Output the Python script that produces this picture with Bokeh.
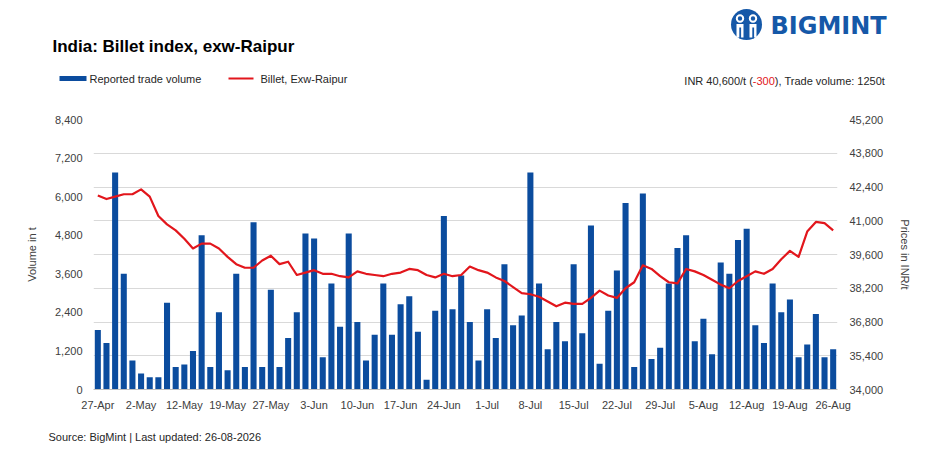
from bokeh.plotting import figure
from bokeh.layouts import column, row
from bokeh.models import Range1d, LinearAxis, FixedTicker, NumeralTickFormatter, ColumnDataSource
from bokeh.core.properties import value
from bokeh.embed import file_html
from bokeh.resources import INLINE

# ---------------- data ----------------
volume = [1850, 1450, 6750, 3600, 900, 500, 380, 380, 2700, 700,
          780, 1200, 4800, 700, 2400, 600, 3600, 700, 5200, 700,
          3100, 700, 1600, 2400, 4850, 4700, 1000, 3300, 1950, 4850,
          2100, 900, 1700, 3300, 1700, 2650, 2900, 1800, 300, 2450,
          5400, 2500, 3550, 2100, 900, 2500, 1600, 3900, 2000, 2300,
          6750, 3300, 1250, 2100, 1500, 3900, 1750, 5100, 800, 2450,
          3700, 5800, 700, 6100, 950, 1300, 3300, 4400, 4800, 1500,
          2200, 1100, 3950, 3600, 4650, 5000, 2000, 1450, 3300, 2400,
          2800, 1000, 1400, 2350, 1000, 1250]
price = [42050, 41900, 42000, 42100, 42100, 42300, 42000, 41200, 40850, 40600,
         40250, 39850, 40050, 40050, 39850, 39500, 39200, 39050, 39050, 39350,
         39550, 39200, 39300, 38750, 38850, 38950, 38800, 38800, 38700, 38650,
         38900, 38800, 38750, 38700, 38800, 38850, 39000, 38950, 38750, 38650,
         38800, 38700, 38750, 39100, 38950, 38850, 38650, 38500, 38250, 38000,
         37950, 37850, 37650, 37450, 37600, 37550, 37550, 37800, 38100, 37900,
         37800, 38200, 38450, 39150, 39000, 38700, 38450, 38400, 39000, 38900,
         38750, 38550, 38350, 38200, 38500, 38700, 38900, 38800, 39000, 39400,
         39750, 39500, 40550, 40950, 40900, 40600]
tick_labels = ["27-Apr", "2-May", "12-May", "19-May", "27-May", "3-Jun", "10-Jun",
               "17-Jun", "24-Jun", "1-Jul", "8-Jul", "15-Jul", "22-Jul", "29-Jul",
               "5-Aug", "12-Aug", "19-Aug", "26-Aug"]
vol_ticks = [0, 1200, 2400, 3600, 4800, 6000, 7200, 8400]
price_ticks = [34000, 35400, 36800, 38200, 39600, 41000, 42400, 43800, 45200]
legend_labels = ["Reported trade volume", "Billet, Exw-Raipur"]
title_text = "India: Billet index, exw-Raipur"
source_text = "Source: BigMint | Last updated: 26-08-2026"
brand = "BIGMINT"
last_price = price[-1]
last_change = price[-1] - price[-2]
last_volume = volume[-1]

# ---------------- style ----------------
FONT = "Liberation Sans"
BLUE = "#0B4C9E"
RED = "#E2161C"
TXT = "#404040"
DARK = "#262626"
LOGO = "#1558A8"

W = 925
H_HEAD, H_MAIN, H_FOOT = 111, 308, 31
FL, FR = 93, 837          # frame edges on the page (x)

# Arial / Liberation Sans advance widths (em) for measuring the info line
AW = {c: 0.556 for c in "0123456789adeoupn"}
AW.update({",": .278, "/": .278, "(": .333, ")": .333, "-": .333, " ": .278, "I": .278,
           "N": .722, "R": .722, "t": .278, "T": .611, "r": .333, "v": .5, "l": .222,
           "m": .833, ":": .278})


def width(s, size):
    return sum(AW.get(c, 0.556) for c in s) * size


def blank(height, top):
    f = figure(width=W, height=height, output_backend="svg", toolbar_location=None,
               x_range=Range1d(0, W), y_range=Range1d(top + height, top),
               x_axis_type=None, y_axis_type=None, min_border=0,
               min_border_left=0, min_border_right=0, min_border_top=0,
               min_border_bottom=0, title=None)
    f.outline_line_color = None
    f.grid.visible = False
    f.background_fill_color = "white"
    f.border_fill_color = "white"
    return f


def txt(f, x, y, s, size="11px", color=DARK, style="normal", align="left", font=FONT):
    f.text(x=[x], y=[y], text=[s], text_font=value(font), text_font_size=size,
           text_color=color, text_font_style=style, text_align=align,
           text_baseline="middle")


# ---------------- header ----------------
head = blank(H_HEAD, 0)
txt(head, 52, 46, title_text, size="17px", color="#000000", style="bold")
head.quad(left=[59], right=[86], top=[75.5], bottom=[80.5], fill_color=BLUE, line_color=None)
txt(head, 89, 78, legend_labels[0])
head.segment(x0=[228], y0=[78], x1=[253], y1=[78], line_color=RED, line_width=2.2)
txt(head, 260, 78, legend_labels[1])
# info line, right-aligned at the right edge of the price labels
s1 = f"INR {last_price:,}/t ("
s2 = f"{last_change}"
s3 = f"), Trade volume: {last_volume}t"
x_end = 885
x3 = x_end - width(s3, 11)
x2 = x3 - width(s2, 11)
txt(head, x3, 80, s3)
txt(head, x2, 80, s2, color=RED)
txt(head, x2, 80, s1, align="right")
# logo
head.circle(x=[746], y=[24], radius=15.5, fill_color=LOGO, line_color=None)
head.circle(x=[739.5, 752.5], y=[18, 18], radius=4.2, fill_color="white", line_color=None)
head.circle(x=[739.5, 752.5], y=[18, 18], radius=2.2, fill_color=LOGO, line_color=None)
head.quad(left=[736, 749], right=[743, 756], top=[23.5, 23.5], bottom=[37, 37],
          fill_color="white", line_color=None)
head.quad(left=[738.8, 751.8], right=[740.6, 753.6], top=[27, 27], bottom=[38, 38],
          fill_color=LOGO, line_color=None)
txt(head, 770, 25, brand, size="24px", color=LOGO, style="bold", font="DejaVu Sans")

# ---------------- main chart ----------------
idx = list(range(len(volume)))
src = ColumnDataSource(dict(x=idx, vol=volume, price=price))

p = figure(width=W, height=H_MAIN, output_backend="svg", toolbar_location=None,
           title=None, x_range=Range1d(-0.5, len(volume) - 0.5),
           y_range=Range1d(vol_ticks[0], vol_ticks[-1]),
           min_border_left=FL, min_border_right=W - FR,
           min_border_top=8, min_border_bottom=30)
p.outline_line_color = None
p.background_fill_color = "white"
p.border_fill_color = "white"
p.extra_y_ranges = {"price": Range1d(price_ticks[0], price_ticks[-1])}

bars = p.vbar(x="x", top="vol", width=0.7, source=src, fill_color=BLUE, line_color=None)
line = p.line(x="x", y="price", source=src, y_range_name="price", line_color=RED,
              line_width=2.2, line_join="round")

p.xgrid.visible = False
n_div = len(price_ticks) - 1
vmax = vol_ticks[-1]
p.ygrid.ticker = FixedTicker(ticks=[vmax * i / n_div for i in range(n_div + 1)])
p.ygrid.grid_line_color = "#d9d9d9"
p.ygrid.grid_line_width = 1

xa = p.xaxis[0]
xt = list(range(0, len(volume), 5))
xa.ticker = FixedTicker(ticks=xt)
xa.major_label_overrides = {t: lab for t, lab in zip(xt, tick_labels)}
xa.axis_line_color = "#bfbfbf"
xa.major_tick_line_color = None
xa.minor_tick_line_color = None
xa.major_label_standoff = 3
xa.major_label_text_font = FONT
xa.major_label_text_font_size = "11px"
xa.major_label_text_color = TXT

ya = p.yaxis[0]
ya.ticker = FixedTicker(ticks=vol_ticks)
ya.formatter = NumeralTickFormatter(format="0,0")
ya.axis_line_color = None
ya.major_tick_line_color = None
ya.minor_tick_line_color = None
ya.major_label_standoff = 5
ya.major_label_text_font = FONT
ya.major_label_text_font_size = "11px"
ya.major_label_text_color = TXT
ya.axis_label = "Volume in t"
ya.axis_label_standoff = 14
ya.axis_label_text_font = FONT
ya.axis_label_text_font_size = "11px"
ya.axis_label_text_font_style = "normal"
ya.axis_label_text_color = TXT

ra = LinearAxis(y_range_name="price", ticker=FixedTicker(ticks=price_ticks),
                formatter=NumeralTickFormatter(format="0,0"))
ra.axis_line_color = None
ra.major_tick_line_color = None
ra.minor_tick_line_color = None
ra.major_label_standoff = 6
ra.major_label_text_font = FONT
ra.major_label_text_font_size = "11px"
ra.major_label_text_color = TXT
ra.axis_label = "Prices in INR/t"
ra.axis_label_standoff = 13
ra.axis_label_text_font = FONT
ra.axis_label_text_font_size = "11px"
ra.axis_label_text_font_style = "normal"
ra.axis_label_text_color = TXT
p.add_layout(ra, "right")

# ---------------- footer ----------------
foot = blank(H_FOOT, H_HEAD + H_MAIN)
txt(foot, 48, 436, source_text)

page = column(row(head), row(p), row(foot), spacing=0)
open("out.html", "w").write(file_html(page, INLINE))
